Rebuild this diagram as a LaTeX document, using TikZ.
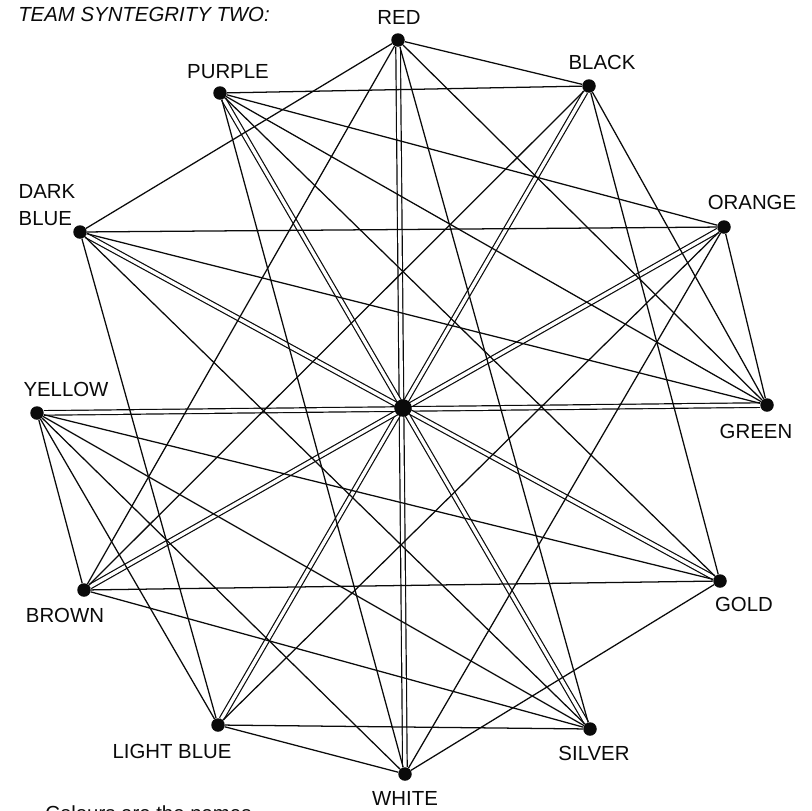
\documentclass[tikz,border=0pt]{standalone}
\usepackage{fontspec}
\setmainfont{Liberation Sans}
\usetikzlibrary{backgrounds}
\definecolor{ink}{HTML}{0A0A0A}

\begin{document}
\begin{tikzpicture}[x=0.025cm, y=-0.025cm,
    dot/.style={circle, fill=ink, inner sep=0pt, minimum size=9.6pt},
    hubdot/.style={dot, minimum size=12.5pt},
    tag/.style={font=\fontsize{14.5}{19}\selectfont, text=ink, inner sep=0pt},
    link/.style={draw=ink, line width=0.9pt},
    pole/.style={draw=ink, line width=0.85pt, double=white, double distance=2.4pt},
  ]
    \useasboundingbox (0,0) rectangle (812,811);

    \node[tag, anchor=base west] (title) at (18,21.5) {\itshape TEAM SYNTEGRITY TWO:};

    % the twelve teams and the hub
    \node[dot] (red) at (398,40) {};
    \node[dot] (black) at (589,86) {};
    \node[dot] (orange) at (724,227) {};
    \node[dot] (green) at (767,405) {};
    \node[dot] (gold) at (720,581) {};
    \node[dot] (silver) at (590,729) {};
    \node[dot] (white) at (405,774) {};
    \node[dot] (lblue) at (218,725) {};
    \node[dot] (brown) at (84,590) {};
    \node[dot] (yellow) at (37,413) {};
    \node[dot] (dblue) at (80,232) {};
    \node[dot] (purple) at (220,93) {};
    \node[hubdot] (hub) at (403,408) {};

    \node[tag] (redlab) at (399,17) {RED};
    \node[tag] (blacklab) at (602,62) {BLACK};
    \node[tag] (orangelab) at (752,202) {ORANGE};
    \node[tag] (greenlab) at (756,431) {GREEN};
    \node[tag] (goldlab) at (744,604) {GOLD};
    \node[tag] (silverlab) at (594,753) {SILVER};
    \node[tag] (whitelab) at (405,798) {WHITE};
    \node[tag] (lbluelab) at (172,751) {LIGHT BLUE};
    \node[tag] (brownlab) at (65,615) {BROWN};
    \node[tag] (yellowlab) at (66,389) {YELLOW};
    \node[tag, align=left] (dbluelab) at (47,205) {DARK\\BLUE};
    \node[tag] (purplelab) at (228,72) {PURPLE};

    \node[tag, anchor=base west] (note) at (45,820) {Colours are the names};

    \begin{scope}[on background layer]
      % opposite teams, through the hub
      \foreach \a/\b in {red/white, black/lblue, orange/brown,
                         green/yellow, gold/dblue, silver/purple}
        \draw[pole] (\a) -- (\b);
      \foreach \a/\b in {red/black, red/green, red/silver, red/brown, red/dblue,
                         black/green, black/brown, black/purple, black/gold,
                         green/dblue, green/purple, green/orange,
                         dblue/silver, dblue/lblue, dblue/orange,
                         silver/brown, silver/lblue, silver/yellow,
                         brown/yellow, brown/gold,
                         white/lblue, white/yellow, white/purple, white/orange, white/gold,
                         lblue/yellow, lblue/orange, yellow/gold, gold/purple, purple/orange}
        \draw[link] (\a) -- (\b);
    \end{scope}
  \end{tikzpicture}
\end{document}
